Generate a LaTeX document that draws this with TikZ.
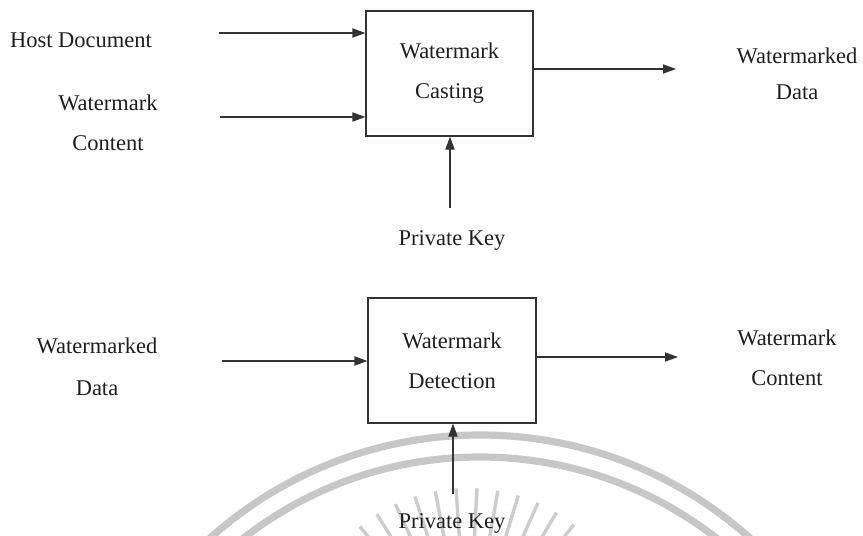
\documentclass[tikz,border=0pt]{standalone}
\usepackage{fontspec}
\setmainfont{Liberation Serif}
\usetikzlibrary{arrows.meta,calc}

\begin{document}
\begin{tikzpicture}[
  x=0.5pt,y=-0.5pt,
  font=\fontsize{11.25}{20}\selectfont,
  stage/.style={draw=black!80,line width=0.6pt,minimum width=83.5pt,minimum height=62.5pt,inner sep=0pt,align=center,text=black!88},
  txt/.style={align=center,inner sep=0pt,text=black!88},
  seal/.style={draw=black!22,line width=3.6pt},
  every edge/.style={draw=black!80,line width=0.6pt,-{Triangle[length=6.5pt,width=4.6pt]}}
]
\useasboundingbox (0,0) rectangle (863,536);
% faint seal of the scanned page
\begin{scope}
  \clip (0,0) rectangle (863,536);
  \draw[seal] (480,840) circle[radius=405];
  \draw[seal] (480,842) circle[radius=385];
  \foreach \a in {203,210,...,337}
    \draw[black!20,line width=1.7pt] ($(468,660)+(\a:118)$) -- ($(468,660)+(\a:172)$);
\end{scope}

% casting
\node[stage] (cast) at (449.5,73.5) {Watermark\\Casting};
\node[txt] (host) at (81,40) {Host Document};
\node[txt] (wmc) at (108,122.5) {Watermark\\Content};
\node[txt] (wmd) at (797,74) {Watermarked\\[-2pt]Data};
\node[txt] (key1) at (452,240) {Private Key};
\coordinate (hostin) at (219,33);
\coordinate (wmcin) at (220,117);
\coordinate (castout) at (676,69);
\coordinate (key1in) at (450,208);
\path (hostin) edge (hostin -| cast.west)
      (wmcin) edge (wmcin -| cast.west)
      (castout -| cast.east) edge (castout)
      (key1in) edge (key1in |- cast.south);

% detection
\node[stage,minimum width=84pt] (detect) at (452,360.5) {Watermark\\Detection};
\node[txt] (wmd2) at (97,367) {Watermarked\\[1pt]Data};
\node[txt] (wmc2) at (787,358) {Watermark\\Content};
\node[txt] (key2) at (452,523) {Private Key};
\coordinate (wmd2in) at (222,361);
\coordinate (detectout) at (678,357);
\coordinate (key2in) at (453,494);
\path (wmd2in) edge (wmd2in -| detect.west)
      (detectout -| detect.east) edge (detectout)
      (key2in) edge (key2in |- detect.south);
\end{tikzpicture}
\end{document}
